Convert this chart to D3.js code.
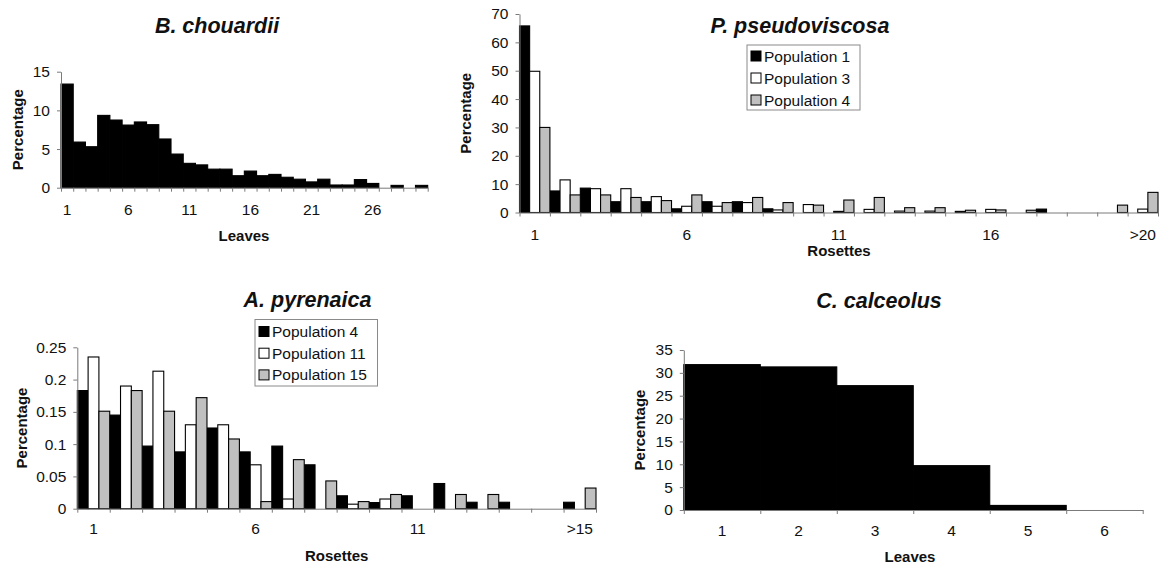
<!DOCTYPE html>
<html>
<head>
<meta charset="utf-8">
<script src="https://cdn.jsdelivr.net/npm/d3@7"></script>
<style>
  html, body { margin: 0; padding: 0; background: #fff; }
  svg text { font-family: "Liberation Sans", Arial, Helvetica, sans-serif; fill: #111; }
</style>
</head>
<body>
<script>
// ---------------- DATA ----------------
// B. chouardii (Leaves)
const chouardiiCategories = ["1","2","3","4","5","6","7","8","9","10","11","12","13","14","15","16","17","18","19","20","21","22","23","24","25","26","27","28","29","30"];
const chouardiiValues = [13.4, 5.9, 5.3, 9.35, 8.75, 8.1, 8.5, 8.15, 6.3, 4.35, 3.15, 2.95, 2.4, 2.4, 1.55, 2.15, 1.55, 1.72, 1.35, 1.1, 0.75, 1.1, 0.35, 0.35, 1.05, 0.55, 0, 0.3, 0, 0.3];
const chouardiiTickLabels = ["1","6","11","16","21","26"];
const chouardiiYTicks = [0, 5, 10, 15];

// P. pseudoviscosa (Rosettes)
const pseudoCategories = ["1","2","3","4","5","6","7","8","9","10","11","12","13","14","15","16","17","18","19","20",">20"];
const pseudoSeries = ["Population 1", "Population 3", "Population 4"];
const pseudoPop1 = [65.8, 7.6, 8.6, 3.8, 3.8, 1.3, 3.8, 3.8, 1.3, 0, 0, 0, 0, 0, 0, 0, 0, 1.2, 0, 0, 0];
const pseudoPop3 = [49.8, 11.5, 8.4, 8.4, 5.6, 2.2, 2.2, 3.5, 0.9, 2.8, 0.4, 1.1, 0.5, 0.5, 0.4, 1.1, 0, 0, 0, 0, 1.2];
const pseudoPop4 = [30, 6.2, 6.2, 5.3, 4.2, 6.2, 3.5, 5.3, 3.5, 2.6, 4.4, 5.3, 1.7, 1.7, 0.8, 0.9, 0.8, 0, 0, 2.6, 7.1];
const pseudoTickLabels = ["1","6","11","16",">20"];
const pseudoYTicks = [0, 10, 20, 30, 40, 50, 60, 70];

// A. pyrenaica (Rosettes)
const pyrenaicaCategories = ["1","2","3","4","5","6","7","8","9","10","11","12","13","14","15",">15"];
const pyrenaicaSeries = ["Population 4", "Population 11", "Population 15"];
const pyrenaicaPop4 = [0.183, 0.145, 0.097, 0.088, 0.125, 0.088, 0.097, 0.068, 0.02, 0.0095, 0.02, 0.039, 0.01, 0.01, 0, 0.01];
const pyrenaicaPop11 = [0.235, 0.19, 0.213, 0.13, 0.13, 0.068, 0.015, 0, 0.007, 0.015, 0, 0, 0, 0, 0, 0];
const pyrenaicaPop15 = [0.151, 0.183, 0.151, 0.172, 0.108, 0.011, 0.076, 0.043, 0.011, 0.022, 0, 0.022, 0.022, 0, 0, 0.032];
const pyrenaicaTickLabels = ["1","6","11",">15"];
const pyrenaicaYTicks = [0, 0.05, 0.1, 0.15, 0.2, 0.25];

// C. calceolus (Leaves)
const calceolusCategories = ["1","2","3","4","5","6"];
const calceolusValues = [31.8, 31.3, 27.2, 9.7, 1.0, 0];
const calceolusTickLabels = ["1","2","3","4","5","6"];
const calceolusYTicks = [0, 5, 10, 15, 20, 25, 30, 35];

// ---------------- DRAWING ----------------
const FILLS = ["#000000", "#ffffff", "#c0c0c0"];
const AXIS_COLOR = "#7a7a7a";
const TICK_FONT = 15.5;
const LABEL_FONT = 15;
const TITLE_FONT = 21.5;

const svg = d3.select("body").append("svg")
  .attr("width", 1160).attr("height", 567);

function panel(cfg) {
  const g = svg.append("g");
  const n = cfg.categories.length;
  const x = d3.scaleBand().domain(cfg.categories).range([cfg.x0, cfg.x1]).paddingInner(0).paddingOuter(0);
  const xs = d3.scaleBand().domain(cfg.seriesNames).range([0, x.bandwidth()]).padding(0);
  const y = d3.scaleLinear().domain([0, cfg.yMax]).range([cfg.y0, cfg.yTop]);

  // bars
  cfg.series.forEach((vals, si) => {
    g.append("g").selectAll("rect")
      .data(vals.map((v, i) => ({ v, c: cfg.categories[i] })).filter(d => d.v > 0))
      .join("rect")
      .attr("x", d => x(d.c) + xs(cfg.seriesNames[si]))
      .attr("y", d => y(d.v))
      .attr("width", xs.bandwidth())
      .attr("height", d => y(0) - y(d.v))
      .attr("fill", FILLS[si])
      .attr("stroke", "#000")
      .attr("stroke-width", 1.1);
  });

  // x axis: ticks at category boundaries
  const xl = d3.scaleLinear().domain([0, n]).range([cfg.x0, cfg.x1]);
  const xa = g.append("g").attr("transform", `translate(0,${cfg.y0})`)
    .call(d3.axisBottom(xl).tickValues(d3.range(n + 1)).tickSize(4).tickSizeOuter(0).tickFormat(""));
  xa.selectAll("path,line").attr("stroke", AXIS_COLOR).attr("stroke-width", 1);

  g.append("g").selectAll("text")
    .data(cfg.tickLabels)
    .join("text")
    .attr("x", d => x(d) + x.bandwidth() / 2)
    .attr("y", cfg.y0 + cfg.labelDy)
    .attr("text-anchor", "middle")
    .attr("font-size", TICK_FONT)
    .text(d => d);

  // y axis
  const ya = g.append("g").attr("transform", `translate(${cfg.x0},0)`)
    .call(d3.axisLeft(y).tickValues(cfg.yTicks).tickSize(4).tickSizeOuter(0).tickPadding(7).tickFormat(cfg.yFormat));
  ya.selectAll("path,line").attr("stroke", AXIS_COLOR).attr("stroke-width", 1);
  ya.selectAll("text").attr("font-size", TICK_FONT).attr("font-family", null).style("fill", "#111");

  // axis titles
  g.append("text")
    .attr("transform", `translate(${cfg.yLabelX},${(cfg.y0 + cfg.yTop) / 2}) rotate(-90)`)
    .attr("text-anchor", "middle")
    .attr("dominant-baseline", "central")
    .attr("font-size", LABEL_FONT)
    .attr("font-weight", "bold")
    .text("Percentage");

  g.append("text")
    .attr("x", cfg.xLabelX)
    .attr("y", cfg.xLabelY)
    .attr("text-anchor", "middle")
    .attr("font-size", LABEL_FONT)
    .attr("font-weight", "bold")
    .text(cfg.xLabel);

  // title
  g.append("text")
    .attr("x", cfg.titleX)
    .attr("y", cfg.titleY)
    .attr("text-anchor", "middle")
    .attr("font-size", TITLE_FONT)
    .attr("font-weight", "bold")
    .attr("font-style", "italic")
    .text(cfg.title);

  // legend
  if (cfg.legend) {
    const L = cfg.legend;
    g.append("rect")
      .attr("x", L.x).attr("y", L.y).attr("width", L.w).attr("height", L.h)
      .attr("fill", "#fff").attr("stroke", "#8a8a8a").attr("stroke-width", 1);
    cfg.seriesNames.forEach((name, i) => {
      const cy = L.y + L.first + i * L.step;
      g.append("rect")
        .attr("x", L.x + 4).attr("y", cy - 5).attr("width", 10).attr("height", 10)
        .attr("fill", FILLS[i]).attr("stroke", "#000").attr("stroke-width", 1);
      g.append("text")
        .attr("x", L.x + 17).attr("y", cy + 5.5)
        .attr("font-size", 15.5)
        .text(name);
    });
  }
}

panel({
  title: "B. chouardii", titleX: 217, titleY: 33,
  categories: chouardiiCategories, seriesNames: ["all"], series: [chouardiiValues],
  tickLabels: chouardiiTickLabels, yTicks: chouardiiYTicks, yMax: 15, yFormat: d3.format("d"),
  x0: 61, x1: 427.7, y0: 187.7, yTop: 71.7, labelDy: 27,
  yLabelX: 17.5, xLabel: "Leaves", xLabelX: 244, xLabelY: 241
});

panel({
  title: "P. pseudoviscosa", titleX: 800, titleY: 33,
  categories: pseudoCategories, seriesNames: pseudoSeries, series: [pseudoPop1, pseudoPop3, pseudoPop4],
  tickLabels: pseudoTickLabels, yTicks: pseudoYTicks, yMax: 70, yFormat: d3.format("d"),
  x0: 519.5, x1: 1158, y0: 212.5, yTop: 14, labelDy: 27.5,
  yLabelX: 465, xLabel: "Rosettes", xLabelX: 839, xLabelY: 255.5,
  legend: { x: 747, y: 45, w: 113, h: 65, first: 11, step: 22 }
});

panel({
  title: "A. pyrenaica", titleX: 307.5, titleY: 307,
  categories: pyrenaicaCategories, seriesNames: pyrenaicaSeries, series: [pyrenaicaPop4, pyrenaicaPop11, pyrenaicaPop15],
  tickLabels: pyrenaicaTickLabels, yTicks: pyrenaicaYTicks, yMax: 0.25, yFormat: d => String(d),
  x0: 77.3, x1: 596, y0: 508.7, yTop: 347.3, labelDy: 25,
  yLabelX: 21.7, xLabel: "Rosettes", xLabelX: 336.7, xLabelY: 560.5,
  legend: { x: 255, y: 319.5, w: 122.5, h: 66.5, first: 12, step: 21.7 }
});

panel({
  title: "C. calceolus", titleX: 879, titleY: 308,
  categories: calceolusCategories, seriesNames: ["all"], series: [calceolusValues],
  tickLabels: calceolusTickLabels, yTicks: calceolusYTicks, yMax: 35, yFormat: d3.format("d"),
  x0: 683.8, x1: 1142.7, y0: 510, yTop: 350, labelDy: 26,
  yLabelX: 639, xLabel: "Leaves", xLabelX: 910, xLabelY: 562
});
</script>
</body>
</html>
